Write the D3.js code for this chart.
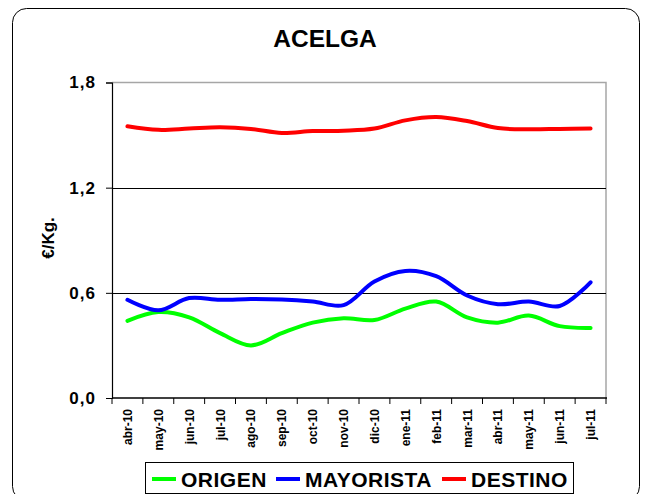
<!DOCTYPE html>
<html>
<head>
<meta charset="utf-8">
<script src="https://cdn.jsdelivr.net/npm/d3@7"></script>
<style>
  html, body { margin: 0; padding: 0; background: #fff; }
  svg { display: block; font-family: "Liberation Sans", Arial, sans-serif; }
</style>
</head>
<body>
<svg id="chart" width="647" height="494"></svg>
<script>
// Monthly prices (€/Kg) for chard
const months = ["abr-10","may-10","jun-10","jul-10","ago-10","sep-10","oct-10","nov-10",
                "dic-10","ene-11","feb-11","mar-11","abr-11","may-11","jun-11","jul-11"];
const origen    = [0.44,0.49,0.46,0.37,0.30,0.37,0.43,0.455,0.445,0.51,0.55,0.46,0.43,0.47,0.41,0.40];
const mayorista = [0.56,0.50,0.57,0.56,0.565,0.562,0.55,0.53,0.665,0.725,0.695,0.585,0.535,0.55,0.525,0.66];
const destino   = [1.55,1.53,1.537,1.544,1.535,1.512,1.523,1.525,1.537,1.584,1.603,1.58,1.54,1.533,1.535,1.537];
const yTicks = [0, 0.6, 1.2, 1.8];

const seriesNames  = ["ORIGEN", "MAYORISTA", "DESTINO"];
const seriesColors = ["#00ff00", "#0000ff", "#ff0000"];
const seriesValues = [origen, mayorista, destino];

const svg = d3.select("#chart");
const plot = { left: 112, right: 606, top: 82.5, bottom: 398 };

// Outer rounded frame
svg.append("rect")
  .attr("x", 12.5).attr("y", 8.5)
  .attr("width", 627).attr("height", 492)
  .attr("rx", 14).attr("ry", 14)
  .attr("fill", "#fff").attr("stroke", "#000").attr("stroke-width", 1);

const x = d3.scaleBand().domain(months).range([plot.left, plot.right]).padding(0);
const y = d3.scaleLinear().domain([0, 1.8]).range([plot.bottom, plot.top]);

// Plot area border (top & right in gray)
svg.append("path")
  .attr("d", `M${plot.left},${plot.top}H${plot.right}V${plot.bottom}`)
  .attr("fill", "none").attr("stroke", "#a6a6a6").attr("stroke-width", 1.5);

// Horizontal gridlines
svg.append("g")
  .selectAll("line")
  .data(yTicks.filter(v => v > 0 && v < 1.8))
  .join("line")
  .attr("x1", plot.left).attr("x2", plot.right)
  .attr("y1", d => Math.round(y(d)) + 0.5).attr("y2", d => Math.round(y(d)) + 0.5)
  .attr("stroke", "#000").attr("stroke-width", 1);

// Y axis
const yAxis = svg.append("g")
  .attr("transform", `translate(${plot.left},0)`)
  .call(d3.axisLeft(y).tickValues(yTicks).tickSize(6).tickPadding(10)
    .tickFormat(d => d3.format(".1f")(d).replace(".", ",")));
yAxis.select(".domain").attr("stroke", "#000").attr("stroke-width", 1.2);
yAxis.selectAll(".tick line").attr("stroke", "#000");
yAxis.selectAll("text")
  .attr("font-size", 17).attr("font-weight", "bold").attr("fill", "#000")
  .attr("letter-spacing", 1)
  .attr("font-family", "Liberation Sans, Arial, sans-serif");

// X axis: ticks between categories
const xAxisG = svg.append("g").attr("transform", `translate(0,${plot.bottom})`);
xAxisG.append("line")
  .attr("x1", plot.left).attr("x2", plot.right + 1)
  .attr("y1", 0).attr("y2", 0)
  .attr("stroke", "#000").attr("stroke-width", 1.5);
const boundaries = months.map(m => x(m)).concat([plot.right]);
xAxisG.selectAll("line.tk")
  .data(boundaries)
  .join("line").attr("class", "tk")
  .attr("x1", d => d).attr("x2", d => d)
  .attr("y1", 0).attr("y2", 6)
  .attr("stroke", "#000").attr("stroke-width", 1);
xAxisG.selectAll("text")
  .data(months)
  .join("text")
  .attr("transform", d => `translate(${x(d) + x.bandwidth() / 2 + 4.5},11) rotate(-90)`)
  .attr("text-anchor", "end")
  .attr("font-size", 12).attr("font-weight", "bold")
  .text(d => d);

// Series lines
const line = d3.line()
  .x((d, i) => x(months[i]) + x.bandwidth() / 2)
  .y(d => y(d))
  .curve(d3.curveCatmullRom.alpha(0.5));

svg.append("g")
  .selectAll("path")
  .data(seriesValues)
  .join("path")
  .attr("d", d => line(d))
  .attr("fill", "none")
  .attr("stroke", (d, i) => seriesColors[i])
  .attr("stroke-width", 4)
  .attr("stroke-linecap", "round")
  .attr("stroke-linejoin", "round");

// Title
svg.append("text")
  .attr("x", 325).attr("y", 47)
  .attr("text-anchor", "middle")
  .attr("font-size", 24.5).attr("font-weight", "bold")
  .text("ACELGA");

// Y axis title
svg.append("text")
  .attr("transform", "translate(54,238) rotate(-90)")
  .attr("text-anchor", "middle")
  .attr("font-size", 17).attr("font-weight", "bold")
  .text("€/Kg.");

// Legend
const legend = svg.append("g");
legend.append("rect")
  .attr("x", 145.5).attr("y", 462.5)
  .attr("width", 428).attr("height", 31)
  .attr("fill", "#fff").attr("stroke", "#000").attr("stroke-width", 1);
const legendX = [151, 275, 441];
seriesNames.forEach((name, i) => {
  legend.append("line")
    .attr("x1", legendX[i] + 1).attr("x2", legendX[i] + 25)
    .attr("y1", 479).attr("y2", 479)
    .attr("stroke", seriesColors[i]).attr("stroke-width", 4);
  legend.append("text")
    .attr("x", legendX[i] + 30).attr("y", 486.5)
    .attr("font-size", 21).attr("font-weight", "bold")
    .attr("letter-spacing", 0.5)
    .text(name);
});
</script>
</body>
</html>
